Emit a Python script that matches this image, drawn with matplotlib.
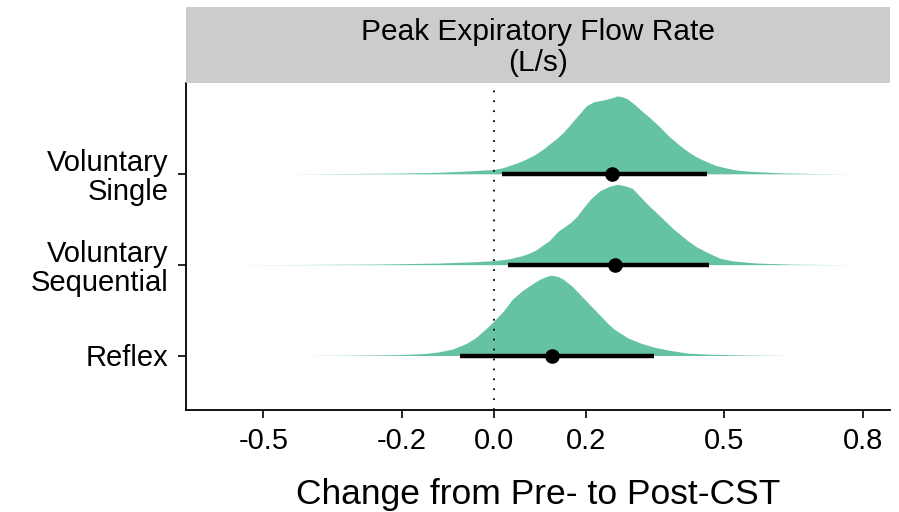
import numpy as np
import matplotlib
matplotlib.use("Agg")
import matplotlib.pyplot as plt

plt.rcParams['font.family'] = ['Liberation Sans', 'DejaVu Sans']

# categories, bottom to top
groups = ["Reflex", "Voluntary\nSequential", "Voluntary\nSingle"]

# density profiles (x, relative height)
single_x = [-0.455, -0.30, -0.20, -0.12, -0.08, -0.04, 0.0, 0.02, 0.05, 0.07, 0.09,
            0.105, 0.12, 0.135, 0.15, 0.165, 0.175, 0.19, 0.20, 0.215, 0.23, 0.24,
            0.255, 0.268, 0.28, 0.29, 0.305, 0.32, 0.34, 0.36, 0.38, 0.40, 0.415,
            0.43, 0.445, 0.46, 0.48, 0.50, 0.525, 0.55, 0.62, 0.70, 0.775]
single_d = [0.0, 0.005, 0.01, 0.02, 0.03, 0.042, 0.056, 0.08, 0.14, 0.19, 0.25,
            0.31, 0.38, 0.45, 0.53, 0.63, 0.70, 0.80, 0.87, 0.92, 0.94, 0.95,
            0.975, 1.0, 0.985, 0.96, 0.89, 0.81, 0.71, 0.60, 0.48, 0.38, 0.31,
            0.25, 0.20, 0.16, 0.11, 0.08, 0.05, 0.035, 0.013, 0.004, 0.0]

seq_x = [-0.565, -0.40, -0.25, -0.12, -0.05, 0.0, 0.03, 0.06, 0.075, 0.09, 0.105,
         0.12, 0.14, 0.165, 0.18, 0.19, 0.20, 0.21, 0.23, 0.25, 0.268, 0.285,
         0.30, 0.32, 0.335, 0.35, 0.37, 0.39, 0.405, 0.42, 0.44, 0.46, 0.475,
         0.49, 0.52, 0.57, 0.65, 0.775]
seq_d = [0.0, 0.003, 0.008, 0.02, 0.035, 0.05, 0.07, 0.11, 0.14, 0.18, 0.24,
         0.30, 0.42, 0.52, 0.60, 0.68, 0.75, 0.82, 0.92, 0.975, 1.0, 0.98,
         0.95, 0.83, 0.74, 0.66, 0.55, 0.44, 0.37, 0.30, 0.22, 0.16, 0.12,
         0.08, 0.045, 0.02, 0.006, 0.0]

reflex_x = [-0.41, -0.30, -0.20, -0.15, -0.12, -0.09, -0.06, -0.04, -0.02, 0.0,
            0.02, 0.04, 0.06, 0.08, 0.10, 0.115, 0.125, 0.14, 0.15, 0.17, 0.19,
            0.21, 0.23, 0.245, 0.26, 0.29, 0.32, 0.35, 0.38, 0.42, 0.47, 0.55,
            0.645]
reflex_d = [0.0, 0.004, 0.012, 0.025, 0.045, 0.08, 0.15, 0.22, 0.32, 0.43,
            0.55, 0.70, 0.80, 0.88, 0.95, 0.985, 1.0, 0.98, 0.95, 0.86, 0.74,
            0.62, 0.50, 0.41, 0.33, 0.22, 0.15, 0.10, 0.065, 0.03, 0.015, 0.005,
            0.0]

dens_x = [reflex_x, seq_x, single_x]
dens_d = [reflex_d, seq_d, single_d]
peak_rel = [1.0, 1.0, 0.97]   # relative peak height of each group

# point estimate and interval
point_est = [0.125, 0.262, 0.257]
int_lo = [-0.073, 0.030, 0.018]
int_hi = [0.347, 0.467, 0.462]

xticks = [-0.5, -0.2, 0.0, 0.2, 0.5, 0.8]
xtick_labels = ["-0.5", "-0.2", "0.0", "0.2", "0.5", "0.8"]

fill_col = "#66c2a5"
scale = 0.885

fig = plt.figure(figsize=(8.99, 5.12), dpi=100)
W, H = 899., 512.
ax = fig.add_axes([185.5/W, 102/H, (890-185.5)/W, (429-102)/H])

ypos = np.arange(1, len(groups)+1)
for i in range(len(groups)):
    xs = np.array(dens_x[i])
    ds = np.array(dens_d[i]) * peak_rel[i] * scale
    ax.fill_between(xs, ypos[i], ypos[i] + ds, color=fill_col, lw=0, zorder=1)

ax.axvline(0, color="black", lw=1.3, ls=(0, (1, 4.5)), zorder=2)

for i in range(len(groups)):
    ax.plot([int_lo[i], int_hi[i]], [ypos[i], ypos[i]], color="black",
            lw=3.2, solid_capstyle="butt", zorder=3)
    ax.plot(point_est[i], ypos[i], "o", color="black", ms=9.5, zorder=4)

ax.set_xlim(-0.669, 0.859)
ax.set_ylim(0.40, 4.0)
ax.set_yticks(ypos)
ax.set_yticklabels(groups, fontsize=21, linespacing=1.05)
ax.set_xticks(xticks)
ax.set_xticklabels(xtick_labels, fontsize=21)
ax.tick_params(length=6, width=1.2, colors="black", pad=6)
ax.spines['top'].set_visible(False)
ax.spines['right'].set_visible(False)
ax.spines['left'].set_linewidth(1.3)
ax.spines['bottom'].set_linewidth(1.3)
ax.set_xlabel("Change from Pre- to Post-CST", fontsize=25.5, labelpad=17)

# facet strip
strip = fig.add_axes([185.5/W, (512-83)/H, (890-185.5)/W, (83-7)/H])
strip.set_facecolor("#cccccc")
strip.set_xticks([])
strip.set_yticks([])
for s in strip.spines.values():
    s.set_visible(False)
strip.text(0.5, 0.47, "Peak Expiratory Flow Rate\n(L/s)", ha="center", va="center",
           fontsize=21.5, linespacing=1.15, transform=strip.transAxes)

fig.savefig("out.png", dpi=100)
